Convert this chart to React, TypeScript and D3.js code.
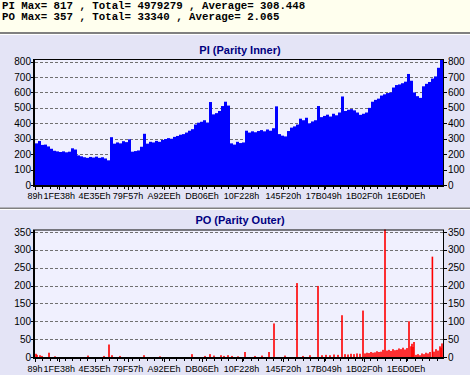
import React from 'react';
import * as d3 from 'd3';

const W = 470;
const H = 375;
const TOTAL_SECTORS = 2193000;

const headerLines = [
  'PI Max= 817 , Total= 4979279 , Average= 308.448',
  'PO Max= 357 , Total= 33340 , Average= 2.065',
];

const xTickLabels = ['89h', '1FE38h', '4E35Eh', '79F57h', 'A92EEh', 'DB06Eh', '10F228h', '145F20h', '17B049h', '1B02F0h', '1E6D0Eh'];

const piTicks = [0, 100, 200, 300, 400, 500, 600, 700, 800];
const poTicks = [0, 50, 100, 150, 200, 250, 300, 350];
const piMax = 817;
const poMax = 357;

// PI error counts, evenly spaced along the disc
const piValues = [
  270, 285, 260, 262, 250, 235, 222, 218, 214, 218, 212, 216, 238, 230, 192, 186, 180, 176, 182, 178,
  184, 176, 180, 172, 160, 310, 268, 276, 270, 284, 278, 296, 216, 220, 224, 248, 332, 268, 280, 276,
  286, 280, 292, 298, 304, 300, 312, 318, 326, 330, 340, 352, 362, 392, 404, 410, 420, 405, 538, 458,
  466, 480, 512, 540, 515, 270, 262, 280, 272, 276, 352, 340, 348, 342, 350, 356, 348, 360, 352, 368,
  510, 330, 320, 315, 350, 372, 380, 392, 430, 420, 436, 400, 412, 420, 512, 440, 448, 456, 444, 462,
  452, 470, 574, 480, 488, 492, 484, 470, 455, 462, 470, 500, 540, 552, 560, 580, 588, 596, 600, 632,
  648, 652, 660, 670, 720, 676, 600, 576, 565, 640, 656, 668, 690, 704, 760, 817,
];

// PO error counts at sector addresses
const poSectors = [
  5375, 10750, 26875, 37625, 75250, 107500, 284875, 370875, 397750, 413875,
  456875, 585875, 671875, 843875, 913750, 940625, 962125, 999750, 1015875, 1037375,
  1058875, 1091125, 1128750, 1182500, 1220125, 1257750, 1284625, 1343750, 1408250, 1440500,
  1478125, 1521125, 1542625, 1564125, 1585625, 1607125, 1628625, 1650125, 1666250, 1682375,
  1698500, 1714625, 1730750, 1746875, 1763000, 1773750, 1784500, 1795250, 1806000, 1816750,
  1827500, 1838250, 1849000, 1859750, 1870500, 1881250, 1892000, 1902750, 1913500, 1924250,
  1935000, 1945750, 1956500, 1967250, 1978000, 1988750, 1999500, 2010250, 2021000, 2026375,
  2031750, 2037125, 2047875, 2058625, 2069375, 2080125, 2090875, 2101625, 2112375, 2123125,
  2136000, 2144625, 2155375, 2166125, 2176875, 2182250, 2187625,
];
const poValues = [
  9, 6, 5, 3, 12, 2, 4, 3, 35, 5,
  3, 5, 2, 8, 3, 8, 4, 5, 3, 5,
  3, 2, 14, 3, 4, 14, 94, 4, 207, 3,
  5, 199, 5, 6, 5, 7, 6, 117, 8, 7,
  9, 8, 10, 9, 130, 10, 12, 11, 14, 12,
  13, 16, 14, 15, 20, 357, 18, 20, 17, 22,
  19, 20, 24, 22, 26, 21, 25, 100, 30, 37,
  28, 42, 6, 8, 5, 10, 8, 12, 10, 14,
  281, 15, 22, 18, 30, 26, 38,
];

const PLOT_L = 35;
const PLOT_R = 443;
const LABEL_FONT = '"Liberation Sans", Arial, sans-serif';

const x = d3.scaleLinear().domain([0, TOTAL_SECTORS]).range([PLOT_L, PLOT_R]);
const xTickSectors = xTickLabels.map((s) => parseInt(s.replace('h', ''), 16));
const minorTicks = d3.range(0, TOTAL_SECTORS, 40000);

type Bar = { x0: number; x1: number; v: number };

function Panel(props: {
  title: string;
  titleY: number;
  top: number;
  bottom: number;
  max: number;
  ticks: number[];
  bars: Bar[];
  color: string;
  labelY: number;
}) {
  const { title, titleY, top, bottom, max, ticks, bars, color, labelY } = props;
  const y = d3.scaleLinear().domain([0, max]).range([bottom, top]);
  return (
    <g>
      <text x={240} y={titleY} textAnchor="middle" fontFamily={LABEL_FONT} fontWeight="bold" fontSize={11} fill="#000080">
        {title}
      </text>
      <rect x={PLOT_L} y={top} width={PLOT_R - PLOT_L} height={bottom - top} fill="#F0F0FE" />
      {ticks.filter((t) => t > 0).map((t) => (
        <line key={'g' + t} x1={PLOT_L} x2={PLOT_R} y1={Math.round(y(t)) + 0.5} y2={Math.round(y(t)) + 0.5}
          stroke="#707070" strokeDasharray="3,2" strokeWidth={1} />
      ))}
      {bars.map((b, i) => (
        <rect key={i} x={b.x0} y={y(b.v)} width={b.x1 - b.x0} height={bottom - y(b.v)} fill={color} />
      ))}
      {/* frame */}
      <line x1={PLOT_L} x2={PLOT_R} y1={top + 0.5} y2={top + 0.5} stroke="#000" strokeWidth={1} />
      <line x1={PLOT_R + 0.5} x2={PLOT_R + 0.5} y1={top} y2={bottom} stroke="#000" strokeWidth={1} />
      <line x1={PLOT_L - 1} x2={PLOT_L - 1} y1={top} y2={bottom + 2} stroke="#000" strokeWidth={2} />
      <line x1={PLOT_L - 2} x2={PLOT_R + 1} y1={bottom + 1} y2={bottom + 1} stroke="#000" strokeWidth={2} />
      {/* y ticks + labels */}
      {ticks.map((t) => (
        <g key={'t' + t}>
          <line x1={PLOT_L - 4} x2={PLOT_L} y1={Math.round(y(t)) + 0.5} y2={Math.round(y(t)) + 0.5} stroke="#000" />
          <line x1={PLOT_R} x2={PLOT_R + 4} y1={Math.round(y(t)) + 0.5} y2={Math.round(y(t)) + 0.5} stroke="#000" />
          <text x={PLOT_L - 4} y={y(t) + 3.5} textAnchor="end" fontFamily={LABEL_FONT} fontSize={10} fill="#000">{t}</text>
          <text x={PLOT_R + 5} y={y(t) + 3.5} textAnchor="start" fontFamily={LABEL_FONT} fontSize={10} fill="#000">{t}</text>
        </g>
      ))}
      {/* x ticks */}
      {minorTicks.map((s) => (
        <line key={'m' + s} x1={Math.round(x(s)) + 0.5} x2={Math.round(x(s)) + 0.5} y1={bottom + 2} y2={bottom + 4} stroke="#000" />
      ))}
      {xTickSectors.map((s, i) => (
        <g key={'x' + i}>
          <line x1={Math.round(x(s)) + 0.5} x2={Math.round(x(s)) + 0.5} y1={bottom + 2} y2={bottom + 5} stroke="#000" />
          <text x={x(s)} y={labelY} textAnchor="middle" fontFamily={LABEL_FONT} fontSize={9} fill="#000">
            {xTickLabels[i]}
          </text>
        </g>
      ))}
    </g>
  );
}

export default function App() {
  const step = TOTAL_SECTORS / piValues.length;
  const piBars: Bar[] = piValues.map((v, i) => ({ x0: x(i * step), x1: x((i + 1) * step), v }));
  const poBars: Bar[] = poSectors.map((s, i) => ({ x0: x(s) - 0.8, x1: x(s) + 0.8, v: poValues[i] }));

  return (
    <svg width={W} height={H} style={{ position: 'absolute', left: 0, top: 0, display: 'block' }}>
      <rect x={0} y={0} width={W} height={H} fill="#E4E4F6" />
      <rect x={0} y={0} width={W} height={32} fill="#FFFFEE" />
      <rect x={0} y={32} width={W} height={2} fill="#808080" />
      <rect x={0} y={34} width={W} height={1} fill="#FFFFFF" />
      {headerLines.map((t, i) => (
        <text key={i} x={2} y={8.5 + i * 11.5} fontFamily='"Liberation Mono", "Courier New", monospace' fontWeight="bold"
          fontSize={10.75} fill="#000" xmlSpace="preserve">{t}</text>
      ))}
      <Panel title="PI (Parity Inner)" titleY={53.5} top={59} bottom={185} max={piMax} ticks={piTicks}
        bars={piBars} color="#0000FF" labelY={199} />
      <rect x={0} y={207.5} width={W} height={1.5} fill="#808080" />
      <rect x={0} y={209} width={W} height={1} fill="#FFFFFF" />
      <Panel title="PO (Parity Outer)" titleY={224} top={229.5} bottom={357} max={poMax} ticks={poTicks}
        bars={poBars} color="#FF0000" labelY={372} />
    </svg>
  );
}
